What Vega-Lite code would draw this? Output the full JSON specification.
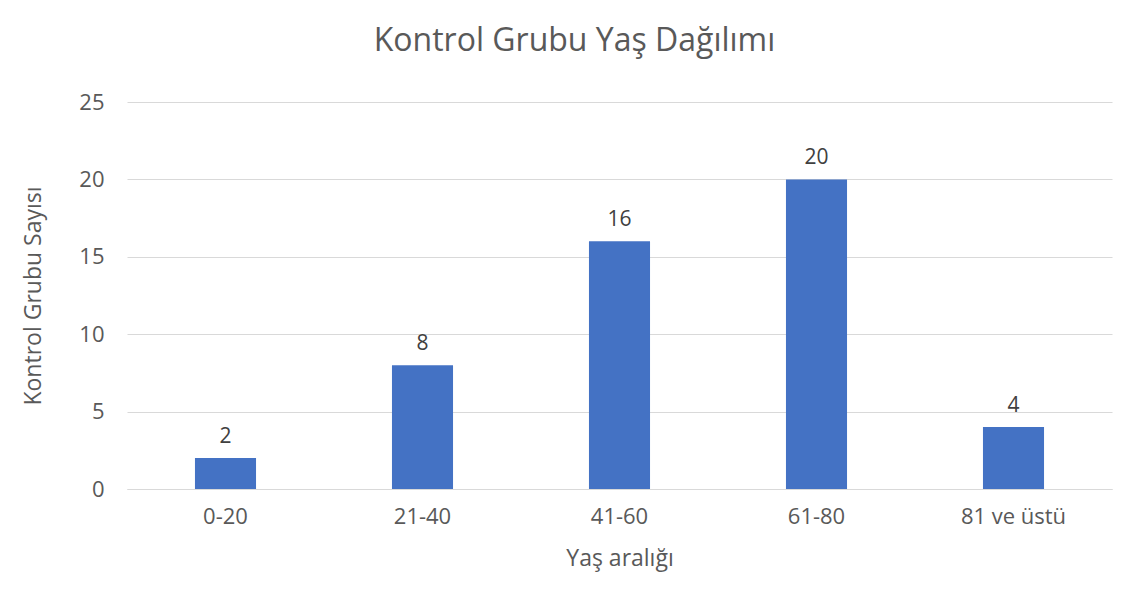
{
  "$schema": "https://vega.github.io/schema/vega-lite/v6.json",
  "autosize": "none",
  "width": 985,
  "height": 387,
  "padding": {"left": 127, "top": 102, "right": 27, "bottom": 119},
  "background": "white",
  "title": {
    "text": "Kontrol Grubu Yaş Dağılımı",
    "fontSize": 32,
    "font": "Open Sans",
    "fontWeight": "normal",
    "color": "#595959",
    "anchor": "middle",
    "dx": -45,
    "baseline": "alphabetic",
    "offset": 8
  },
  "data": {
    "values": [
      {"aralik": "0-20", "sayi": 2},
      {"aralik": "21-40", "sayi": 8},
      {"aralik": "41-60", "sayi": 16},
      {"aralik": "61-80", "sayi": 20},
      {"aralik": "81 ve üstü", "sayi": 4}
    ]
  },
  "encoding": {
    "x": {
      "field": "aralik",
      "type": "nominal",
      "sort": null,
      "scale": {"paddingInner": 0.69, "paddingOuter": 0.345},
      "axis": {
        "title": "Yaş aralığı",
        "labelAngle": 0,
        "ticks": false,
        "domain": true,
        "domainColor": "#d9d9d9",
        "labelPadding": 17,
        "titlePadding": 20
      }
    },
    "y": {
      "field": "sayi",
      "type": "quantitative",
      "scale": {"domain": [0, 25]},
      "axis": {
        "title": "Kontrol Grubu Sayısı",
        "values": [0, 5, 10, 15, 20, 25],
        "ticks": false,
        "domain": false,
        "grid": true,
        "gridColor": "#d9d9d9",
        "labelPadding": 23,
        "titlePadding": 33
      }
    }
  },
  "layer": [
    {"mark": {"type": "bar", "color": "#4472C4"}},
    {
      "mark": {"type": "text", "baseline": "bottom", "dy": -11, "fontSize": 21, "font": "Open Sans", "color": "#404040"},
      "encoding": {"text": {"field": "sayi", "type": "quantitative"}}
    }
  ],
  "config": {
    "view": {"stroke": null},
    "axis": {
      "labelFont": "Open Sans",
      "titleFont": "Open Sans",
      "labelFontSize": 22,
      "titleFontSize": 23,
      "titleFontWeight": "normal",
      "labelColor": "#595959",
      "titleColor": "#595959"
    }
  }
}
